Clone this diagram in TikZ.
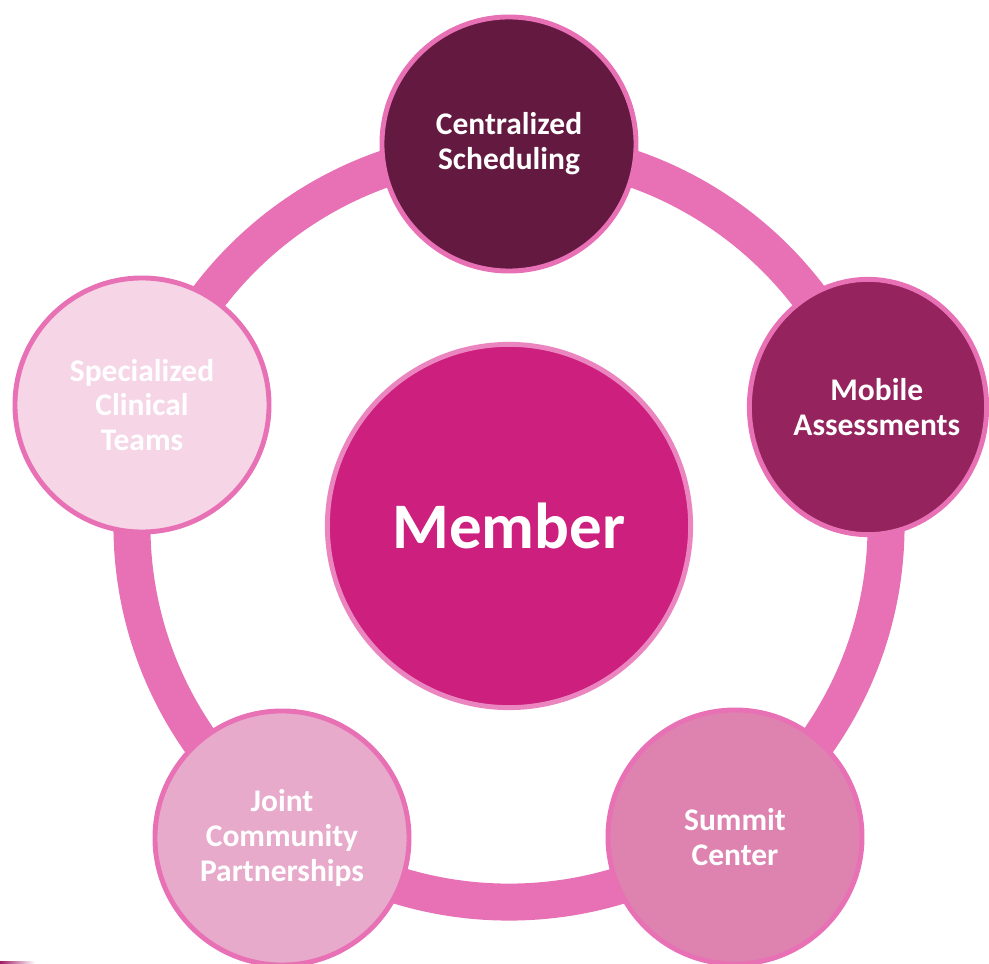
\documentclass[tikz,border=0pt]{standalone}
\usepackage{fontspec}
\setmainfont{Carlito}
\usetikzlibrary{shapes.geometric}
\definecolor{ringpink}{HTML}{E870B4}
\definecolor{schedcol}{HTML}{641A40}
\definecolor{mobilecol}{HTML}{95245E}
\definecolor{membercol}{HTML}{CC1F7E}
\definecolor{summitcol}{HTML}{DE82B0}
\definecolor{jointcol}{HTML}{E8AACB}
\definecolor{teamscol}{HTML}{F5D5E6}
\tikzset{
  spoke/.style={circle, draw=ringpink, line width=3.5pt, minimum size=6.35cm,
    inner sep=0pt, align=center, text=white,
    font=\fontsize{22.4}{24.8}\selectfont\bfseries},
}
\begin{document}
\begin{tikzpicture}[x=0.025cm, y=-0.025cm]
    \useasboundingbox (0,0) rectangle (989,964);
    \clip (0,0) rectangle (989,964);

    % Ring behind everything
    \coordinate (hub) at (509,525);
    \draw[ringpink, line width=26.3pt] (hub) circle (9.425cm);

    % Centre
    \node[spoke, fill=membercol, minimum size=9.08cm, draw=ringpink!85!white,
          font=\fontsize{46.2}{50}\selectfont\bfseries] (member) at (509,526) {Member};

    % Outer circles
    \node[spoke, fill=schedcol] (sched) at (509,144) {Centralized\\Scheduling};
    \node[spoke, ellipse, fill=mobilecol, minimum width=5.93cm, minimum height=6.38cm,
          label={[xshift=0.22cm, text=white, align=center,
                  font=\fontsize{22.4}{24.8}\selectfont\bfseries]center:Mobile\\Assessments}]
          (mobile) at (868,407) {};
    \node[spoke, fill=summitcol] (summit) at (735,837) {Summit\\Center};
    \node[spoke, fill=jointcol] (joint) at (282,838) {Joint\\Community\\Partnerships};
    \node[spoke, fill=teamscol] (teams) at (142,405) {Specialized\\Clinical\\Teams};

    % Stray edge, bottom left
    \shade[left color=membercol!80!black, right color=white] (0,961) rectangle (35,964);
\end{tikzpicture}
\end{document}
